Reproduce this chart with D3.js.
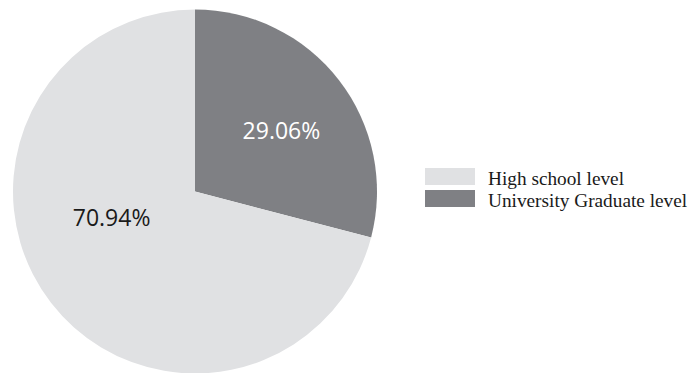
<!DOCTYPE html>
<html>
<head>
<meta charset="utf-8">
<script src="https://cdn.jsdelivr.net/npm/d3@7"></script>
<style>
  html, body { margin: 0; padding: 0; background: #fff; }
  svg { display: block; }
</style>
</head>
<body>
<svg id="chart" width="691" height="373"></svg>
<script>
// Education level shares (percent)
const categories = ["University Graduate level", "High school level"];
const values = [29.06, 70.94];
const colors = ["#7f8084", "#e0e1e3"];
const labelColors = ["#ffffff", "#1a1a1a"];
const legendOrder = ["High school level", "University Graduate level"];
// Nudges applied to each percentage label after centroid placement
const labelNudges = [[0, 6], [3, -40]];

const svg = d3.select("#chart");
const cx = 195, cy = 191.5, radius = 182;

const pie = d3.pie().sort(null).value(d => d.value);
const arcs = pie(categories.map((c, i) => ({ name: c, value: values[i], i })));
const arc = d3.arc().innerRadius(0).outerRadius(radius);
const labelArc = d3.arc().innerRadius(radius * 0.6).outerRadius(radius * 0.6);

const g = svg.append("g").attr("transform", `translate(${cx},${cy})`);

g.selectAll("path.slice")
  .data(arcs)
  .join("path")
  .attr("class", "slice")
  .attr("d", arc)
  .attr("fill", d => colors[d.data.i]);

g.selectAll("text.pct")
  .data(arcs)
  .join("text")
  .attr("class", "pct")
  .attr("transform", d => {
    const [x, y] = labelArc.centroid(d);
    const [dx, dy] = labelNudges[d.data.i];
    return `translate(${x + dx},${y + dy})`;
  })
  .attr("text-anchor", "middle")
  .attr("dy", "0.35em")
  .attr("font-family", "'Open Sans', sans-serif")
  .attr("font-size", 23)
  .attr("fill", d => labelColors[d.data.i])
  .text(d => d3.format(".2f")(d.data.value) + "%");

// Legend
const legend = svg.append("g").attr("transform", "translate(425,168)");
const colorOf = name => colors[categories.indexOf(name)];
const item = legend.selectAll("g.item")
  .data(legendOrder)
  .join("g")
  .attr("class", "item")
  .attr("transform", (d, i) => `translate(0,${i * 22})`);
item.append("rect")
  .attr("width", 50)
  .attr("height", 17)
  .attr("fill", d => colorOf(d));
item.append("text")
  .attr("x", 63)
  .attr("y", 16.5)
  .attr("font-family", "'Liberation Serif', serif")
  .attr("font-size", 19.3)
  .attr("fill", "#1a1a1a")
  .text(d => d);
</script>
</body>
</html>
